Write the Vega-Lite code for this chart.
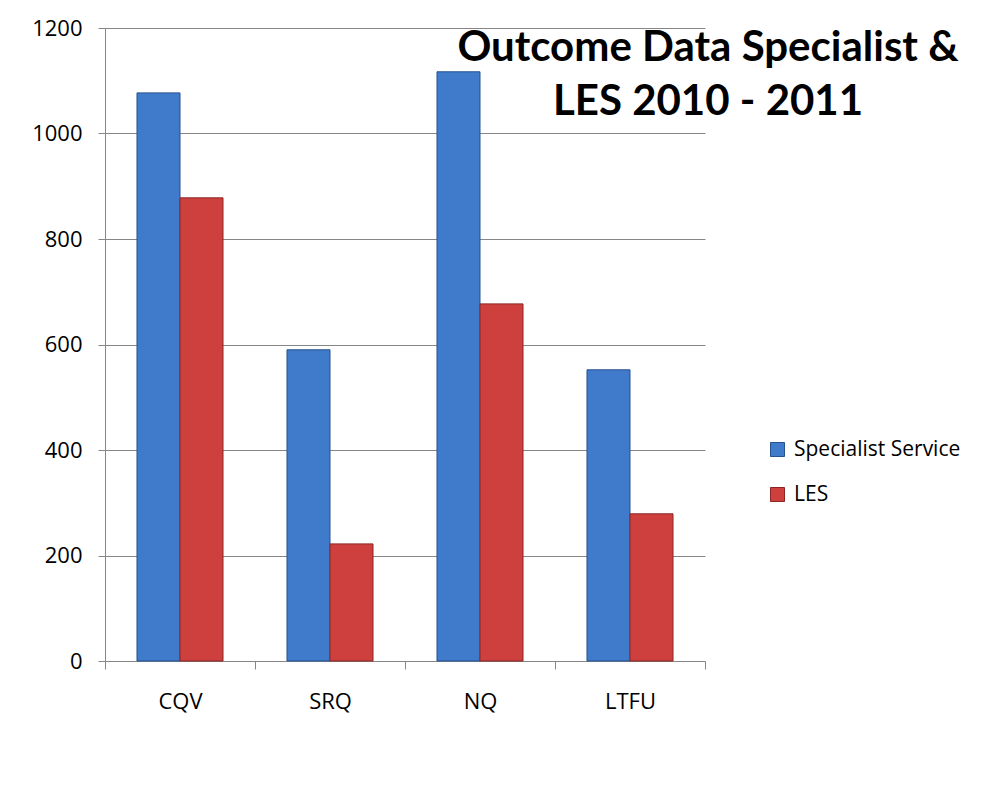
{
  "$schema": "https://vega.github.io/schema/vega-lite/v6.json",
  "width": 600,
  "height": 633,
  "autosize": {"type": "none"},
  "padding": {"left": 105, "top": 28, "right": 299, "bottom": 135},
  "background": "white",
  "data": {
    "values": [
      {"region": "CQV", "series": "Specialist Service", "value": 1077},
      {"region": "CQV", "series": "LES", "value": 878},
      {"region": "SRQ", "series": "Specialist Service", "value": 590},
      {"region": "SRQ", "series": "LES", "value": 222},
      {"region": "NQ", "series": "Specialist Service", "value": 1117},
      {"region": "NQ", "series": "LES", "value": 677},
      {"region": "LTFU", "series": "Specialist Service", "value": 552},
      {"region": "LTFU", "series": "LES", "value": 279}
    ]
  },
  "title": {
    "text": ["Outcome Data Specialist &", "LES 2010 - 2011"],
    "anchor": "middle",
    "frame": "group",
    "dx": 303,
    "dy": 144,
    "font": "Lato",
    "fontSize": 42,
    "fontWeight": "bold",
    "color": "black",
    "lineHeight": 54,
    "baseline": "alphabetic"
  },
  "mark": {"type": "bar", "strokeWidth": 1},
  "encoding": {
    "x": {
      "field": "region",
      "type": "nominal",
      "sort": ["CQV", "SRQ", "NQ", "LTFU"],
      "scale": {"paddingInner": 0, "paddingOuter": 0},
      "axis": {
        "title": null,
        "labelAngle": 0,
        "labelFont": "Open Sans",
        "labelFontSize": 22,
        "labelColor": "black",
        "labelPadding": 22,
        "tickBand": "extent",
        "tickSize": 8,
        "tickColor": "#868686",
        "domainColor": "#868686",
        "grid": false
      }
    },
    "xOffset": {
      "field": "series",
      "type": "nominal",
      "sort": ["Specialist Service", "LES"],
      "scale": {"paddingInner": 0, "paddingOuter": 0.744}
    },
    "y": {
      "field": "value",
      "type": "quantitative",
      "scale": {"domain": [0, 1200], "nice": false},
      "axis": {
        "title": null,
        "values": [0, 200, 400, 600, 800, 1000, 1200],
        "format": "d",
        "labelFont": "Open Sans",
        "labelFontSize": 22,
        "labelColor": "black",
        "labelPadding": 16,
        "tickSize": 7,
        "tickColor": "#868686",
        "domainColor": "#868686",
        "gridColor": "#868686",
        "grid": true
      }
    },
    "color": {
      "field": "series",
      "type": "nominal",
      "sort": ["Specialist Service", "LES"],
      "scale": {"domain": ["Specialist Service", "LES"], "range": ["#3F7ACB", "#CD403D"]},
      "legend": {
        "title": null,
        "orient": "none",
        "legendX": 662,
        "legendY": 411,
        "symbolType": "square",
        "symbolSize": 196,
        "symbolStrokeWidth": 1,
        "labelFont": "Open Sans",
        "labelFontSize": 21,
        "labelColor": "black",
        "labelLimit": 400,
        "rowPadding": 23,
        "labelOffset": 6
      }
    },
    "stroke": {
      "field": "series",
      "type": "nominal",
      "scale": {"domain": ["Specialist Service", "LES"], "range": ["#25528F", "#8A2725"]},
      "legend": null
    }
  },
  "config": {
    "view": {"stroke": null}
  }
}
